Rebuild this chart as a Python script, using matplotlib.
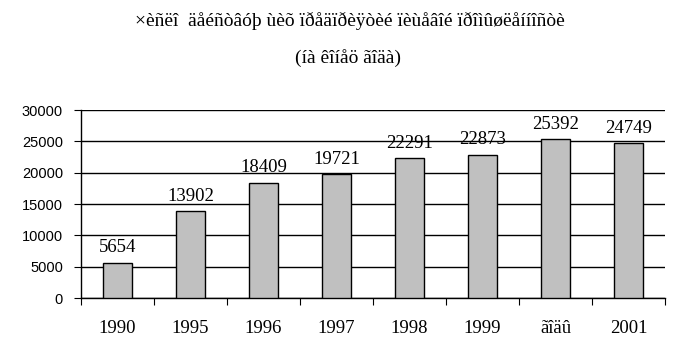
import matplotlib
matplotlib.use("Agg")
import matplotlib.pyplot as plt
import numpy as np

categories = ["1990", "1995", "1996", "1997", "1998", "1999", "ãîäû", "2001"]
values = [5654, 13902, 18409, 19721, 22291, 22873, 25392, 24749]
yticks = [0, 5000, 10000, 15000, 20000, 25000, 30000]
title1 = "×èñëî  äåéñòâóþ ùèõ ïðåäïðèÿòèé ïèùåâîé ïðîìûøëåííîñòè"
title2 = "(íà êîíåö ãîäà)"

fig = plt.figure(figsize=(6.78, 3.61), dpi=100)
ax = fig.add_axes([81/678, 1 - 298/361, (665-81)/678, (298-110)/361])

x = np.arange(len(categories))
ax.bar(x, values, width=0.41, color="#c0c0c0", edgecolor="black", linewidth=1, zorder=3)
for xi, v in zip(x, values):
    ax.text(xi, v + 1000, str(v), ha="center", va="bottom", fontsize=13.5,
            family="Liberation Serif", zorder=4)

ax.set_xlim(-0.5, len(categories) - 0.5)
ax.set_ylim(0, 30000)
ax.set_yticks(yticks)
ax.set_yticklabels([str(t) for t in yticks], family="Liberation Sans", fontsize=10.5)
ax.yaxis.grid(True, color="black", linewidth=1, zorder=0)
ax.set_axisbelow(True)

ax.set_xticks(np.arange(len(categories) + 1) - 0.5)
ax.set_xticklabels([])
ax.set_xticks(x, minor=True)
ax.set_xticklabels(categories, minor=True, family="Liberation Serif", fontsize=13.5)
ax.tick_params(axis="x", which="minor", length=0, pad=16)
ax.tick_params(axis="x", which="major", length=5, direction="out", color="black")
ax.tick_params(axis="y", length=5, direction="out", color="black", pad=8)

for s in ["top", "right"]:
    ax.spines[s].set_visible(False)
for s in ["left", "bottom"]:
    ax.spines[s].set_color("black")
    ax.spines[s].set_linewidth(1)

fig.text(350/678, 1 - 21/361, title1, ha="center", va="center", fontsize=14,
         family="Liberation Serif")
fig.text(348/678, 1 - 58/361, title2, ha="center", va="center", fontsize=14,
         family="Liberation Serif")

fig.savefig("out.png", dpi=100, facecolor="white")
